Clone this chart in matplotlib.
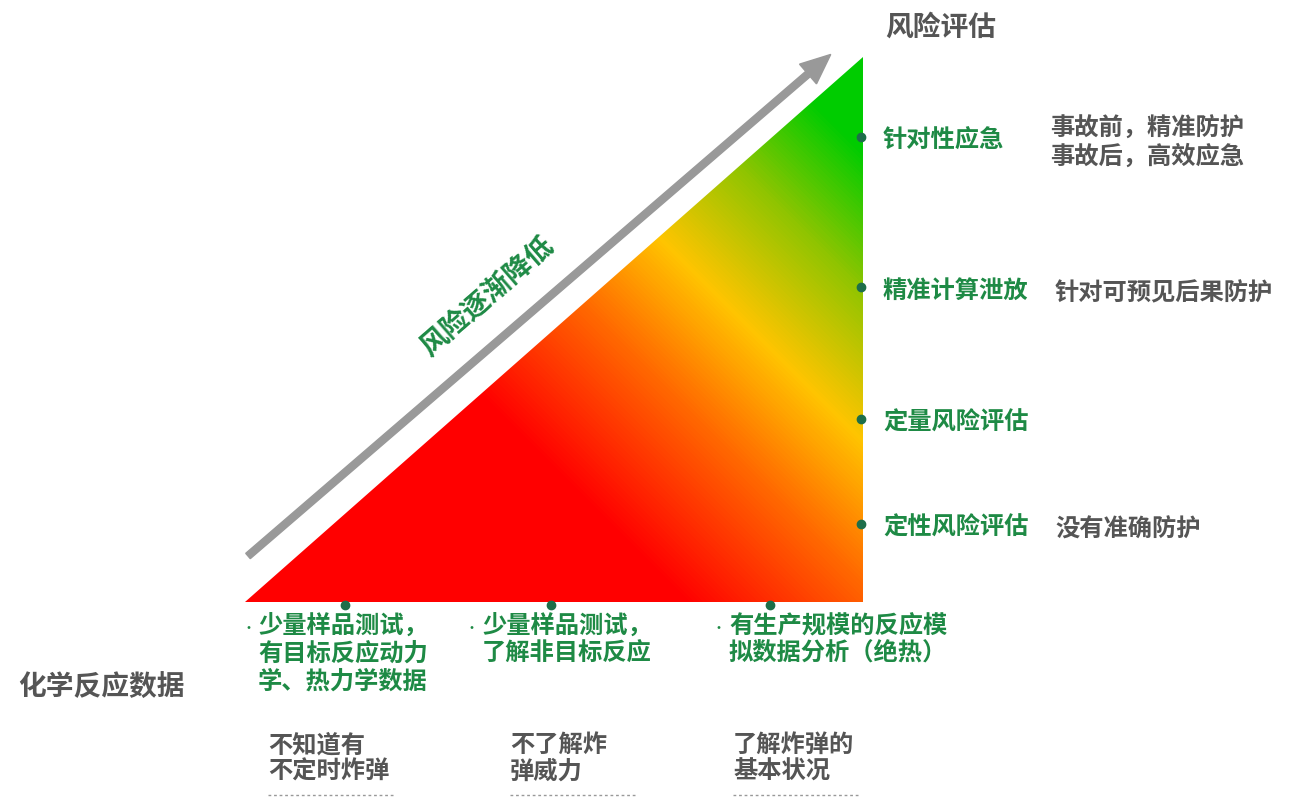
import matplotlib
matplotlib.use('Agg')
import matplotlib.pyplot as plt
import numpy as np
from matplotlib.colors import LinearSegmentedColormap
from matplotlib.patches import Polygon, FancyArrow

plt.rcParams['font.family'] = ['Noto Sans CJK SC', 'DejaVu Sans']

GREEN = '#1e8a45'
GRAY = '#555555'
DOT = '#1d6e4a'

tri = [(245, 603), (863, 603), (863, 58)]
right_labels = ['针对性应急', '精准计算泄放', '定量风险评估', '定性风险评估']
right_y = [138, 288, 420, 525]
right_notes = ['事故前，精准防护\n事故后，高效应急', '针对可预见后果防护', '', '没有准确防护']
bottom_labels = ['少量样品测试，\n有目标反应动力\n学、热力学数据', '少量样品测试，\n了解非目标反应', '有生产规模的反应模\n拟数据分析（绝热）']
bottom_dot_x = [345, 551, 770]
bottom_text_x = [243, 467, 714]
knowledge = ['不知道有\n不定时炸弹', '不了解炸\n弹威力', '了解炸弹的\n基本状况']
knowledge_x = [268, 510, 733]

fig = plt.figure(figsize=(12.95, 8.12), dpi=100)
ax = fig.add_axes([0, 0, 1, 1])
ax.set_xlim(0, 1295)
ax.set_ylim(812, 0)
ax.axis('off')

# gradient triangle
cmap = LinearSegmentedColormap.from_list('risk', [
    (0.0, '#ff0000'), (0.38, '#ff0000'), (0.55, '#ff6a00'),
    (0.67, '#ffc400'), (0.8, '#90c400'), (0.92, '#00cc00'), (1.0, '#00cc00')])
xs = np.arange(240, 870)
ys = np.arange(50, 610)
X, Y = np.meshgrid(xs, ys)
T = (X - Y + 358) / (805 + 358)
im = ax.imshow(T, cmap=cmap, vmin=0, vmax=1, extent=(240, 870, 610, 50), zorder=1)
poly = Polygon(tri, closed=True, facecolor='none', edgecolor='none')
ax.add_patch(poly)
im.set_clip_path(poly)

# gray arrow
ax.add_patch(FancyArrow(248, 557, 560, -482, width=7, head_width=26, head_length=30,
                        length_includes_head=False, color='#999999', zorder=2))
ax.text(487, 296, '风险逐渐降低', rotation=41, color=GREEN, fontsize=20, fontweight='bold',
        ha='center', va='center')

ax.text(885, 28, '风险评估', color=GRAY, fontsize=20, fontweight='bold', va='center')
ax.text(18, 688, '化学反应数据', color=GRAY, fontsize=20, fontweight='bold', va='center')

for lab, y, note in zip(right_labels, right_y, right_notes):
    ax.plot(861, y, 'o', color=DOT, ms=6, zorder=3)
    ax.text(883, y + 3, lab, color=GREEN, fontsize=17.5, fontweight='bold', va='center')
    if note:
        ax.text(1050 if '\n' in note else 1055, y + 5, note, color=GRAY, fontsize=17.5,
                fontweight='bold', va='center', linespacing=1.2)

for dx, tx, lab in zip(bottom_dot_x, bottom_text_x, bottom_labels):
    ax.plot(dx, 606, 'o', color=DOT, ms=6, zorder=3)
    ax.text(tx - 2, 622, '•', color=GREEN, fontsize=10, va='top')
    ax.text(tx + 15, 614, lab, color=GREEN, fontsize=17.5, fontweight='bold', va='top',
            linespacing=1.2)

for kx, lab in zip(knowledge_x, knowledge):
    ax.text(kx, 733, lab, color=GRAY, fontsize=17.5, fontweight='bold', va='top', linespacing=1.15)
    ax.plot([kx, kx + 125], [796, 796], color='#999999', lw=1, ls=(0, (2, 2)))

fig.savefig('out.png', dpi=100)
